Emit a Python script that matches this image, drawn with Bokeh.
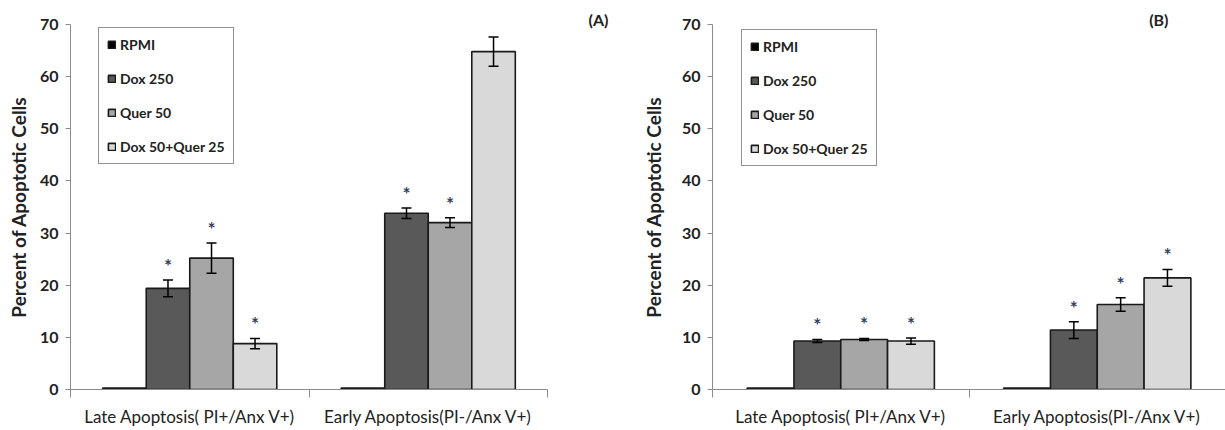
from bokeh.plotting import figure
from bokeh.models import (ColumnDataSource, Whisker, TeeHead, Legend, LegendItem,
                          Title, FixedTicker, Range1d)
from bokeh.layouts import row
from bokeh.core.properties import value
from bokeh.embed import file_html
from bokeh.resources import INLINE

# ---------------- data ----------------
categories = ["Late Apoptosis( PI+/Anx V+)", "Early Apoptosis(PI-/Anx V+)"]
series = ["RPMI", "Dox 250", "Quer 50", "Dox 50+Quer 25"]
colors = ["#000000", "#595959", "#a6a6a6", "#d9d9d9"]
y_ticks = [0, 10, 20, 30, 40, 50, 60, 70]

# Panel (A): means per category [Late, Early]
a_rpmi = [0.3, 0.3]
a_dox250 = [19.4, 33.8]
a_quer50 = [25.2, 32.0]
a_combo = [8.8, 64.8]
# Panel (A): error (+/-)
a_rpmi_err = [0.0, 0.0]
a_dox250_err = [1.6, 1.0]
a_quer50_err = [2.9, 0.95]
a_combo_err = [1.0, 2.8]
# significance flags (asterisk)
a_sig = [[False, False], [True, True], [True, True], [True, True]]

# Panel (B)
b_rpmi = [0.3, 0.3]
b_dox250 = [9.3, 11.4]
b_quer50 = [9.6, 16.3]
b_combo = [9.3, 21.4]
b_rpmi_err = [0.0, 0.0]
b_dox250_err = [0.3, 1.6]
b_quer50_err = [0.2, 1.3]
b_combo_err = [0.6, 1.6]
b_sig = [[False, False], [True, True], [True, True], [True, True]]

FONT = "Lato"
TXT = "#222222"
AXC = "#8c8c8c"


def make_panel(vals, errs, sig, tag, width, left, right, xend, legend_xy,
               tag_offset, ylabel_standoff):
    title = Title(text=tag, align="right", offset=tag_offset, standoff=-9,
                  text_font=FONT, text_font_size="16px", text_font_style="bold",
                  text_color=TXT)
    p = figure(width=width, height=430, output_backend="svg", toolbar_location=None,
               x_range=Range1d(0, xend), y_range=Range1d(0, 70), title=title,
               min_border_left=left, min_border_right=right,
               min_border_top=24, min_border_bottom=41)
    p.outline_line_color = None
    p.xgrid.grid_line_color = None
    p.ygrid.grid_line_color = None
    p.background_fill_color = "white"
    p.border_fill_color = "white"

    n = len(series)
    group = 0.73
    bw = group / n
    items = []
    for j in range(n):
        xs = [i + 0.5 + (j - (n - 1) / 2) * bw for i in range(len(categories))]
        src = ColumnDataSource(dict(x=xs, top=vals[j],
                                    upper=[v + e for v, e in zip(vals[j], errs[j])],
                                    lower=[v - e for v, e in zip(vals[j], errs[j])]))
        r = p.vbar(x="x", top="top", bottom=0, width=bw, source=src,
                   fill_color=colors[j], line_color="#1a1a1a", line_width=1.6)
        items.append(LegendItem(label=series[j], renderers=[r]))
        if any(e > 0 for e in errs[j]):
            w = Whisker(base="x", upper="upper", lower="lower", source=src,
                        level="overlay", line_color="black", line_width=1.5,
                        upper_head=TeeHead(size=10, line_color="black", line_width=1.5),
                        lower_head=TeeHead(size=10, line_color="black", line_width=1.5))
            p.add_layout(w)
        sx = [x for x, s in zip(xs, sig[j]) if s]
        sy = [v + e + 2.8 for v, e, s in zip(vals[j], errs[j], sig[j]) if s]
        if sx:
            p.text(x=sx, y=sy, text=["*"] * len(sx), text_font=value(FONT),
                   text_font_size="19px", text_font_style="bold",
                   text_color="#34405c", text_align="center", text_baseline="middle")

    leg = Legend(items=items, location=legend_xy, margin=0, padding=8,
                 spacing=17, label_height=16, glyph_width=9, glyph_height=9,
                 label_standoff=4, label_text_font=FONT, label_text_font_size="14px",
                 label_text_font_style="bold", label_text_color=TXT,
                 border_line_color="#262626", border_line_width=1.5,
                 background_fill_color="white", background_fill_alpha=1.0)
    p.add_layout(leg, "center")

    xa = p.xaxis[0]
    xa.ticker = FixedTicker(ticks=[0.5, 1.5], minor_ticks=[0, 1, 2])
    xa.major_label_overrides = {0.5: categories[0], 1.5: categories[1]}
    xa.major_tick_line_color = None
    xa.major_tick_out = 0
    xa.major_tick_in = 0
    xa.minor_tick_out = 8
    xa.minor_tick_in = 0
    xa.minor_tick_line_color = AXC
    xa.axis_line_color = AXC
    xa.major_label_standoff = 8
    xa.major_label_text_font = FONT
    xa.major_label_text_font_size = "17px"
    xa.major_label_text_color = TXT

    ya = p.yaxis[0]
    ya.ticker = FixedTicker(ticks=y_ticks)
    ya.axis_line_color = AXC
    ya.major_tick_line_color = AXC
    ya.major_tick_out = 5
    ya.major_tick_in = 0
    ya.minor_tick_line_color = None
    ya.major_label_standoff = 7
    ya.major_label_text_font = FONT
    ya.major_label_text_font_size = "16px"
    ya.major_label_text_font_style = "bold"
    ya.major_label_text_color = TXT
    ya.axis_label = "Percent of Apoptotic Cells"
    ya.axis_label_text_font = FONT
    ya.axis_label_text_font_size = "19px"
    ya.axis_label_text_font_style = "bold"
    ya.axis_label_text_color = TXT
    ya.axis_label_standoff = ylabel_standoff
    return p


a_vals = [a_rpmi, a_dox250, a_quer50, a_combo]
a_errs = [a_rpmi_err, a_dox250_err, a_quer50_err, a_combo_err]
b_vals = [b_rpmi, b_dox250, b_quer50, b_combo]
b_errs = [b_rpmi_err, b_dox250_err, b_quer50_err, b_combo_err]

pa = make_panel(a_vals, a_errs, a_sig, "(A)", width=620, left=70, right=73, xend=2,
                legend_xy=(28, 225), tag_offset=-61, ylabel_standoff=7)
pb = make_panel(b_vals, b_errs, b_sig, "(B)", width=605, left=92, right=0, xend=2,
                legend_xy=(29, 223), tag_offset=57, ylabel_standoff=14)

layout = row(pa, pb)
open("out.html", "w").write(file_html(layout, INLINE))
